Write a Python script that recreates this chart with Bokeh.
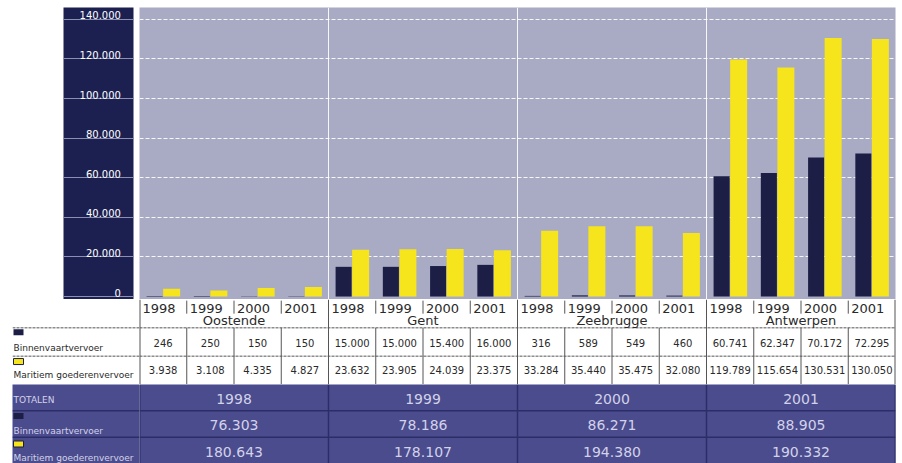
from bokeh.plotting import figure
from bokeh.models import ColumnDataSource, FactorRange, Range1d, Grid, FixedTicker, Span
from bokeh.transform import dodge
from bokeh.layouts import row, column
from bokeh.core.properties import value
from bokeh.embed import file_html
from bokeh.resources import INLINE

# ---------------- data ----------------
ports = ["Oostende", "Gent", "Zeebrugge", "Antwerpen"]
years = ["1998", "1999", "2000", "2001"]
binnenvaart = [246, 250, 150, 150,
               15000, 15000, 15400, 16000,
               316, 589, 549, 460,
               60741, 62347, 70172, 72295]
maritiem = [3938, 3108, 4335, 4827,
            23632, 23905, 24039, 23375,
            33284, 35440, 35475, 32080,
            119789, 115654, 130531, 130050]
totaal_jaren = ["1998", "1999", "2000", "2001"]
totaal_binnenvaart = [76303, 78186, 86271, 88905]
totaal_maritiem = [180643, 178107, 194380, 190332]
y_ticks = [0, 20000, 40000, 60000, 80000, 100000, 120000, 140000]
y_tick_labels = ["0", "20.000", "40.000", "60.000", "80.000", "100.000", "120.000", "140.000"]
label_binnen = "Binnenvaartvervoer"
label_maritiem = "Maritiem goederenvervoer"
label_totalen = "TOTALEN"


def nl(v):
    return f"{v:,}".replace(",", ".")


# ---------------- style ----------------
FONT = value("DejaVu Sans")
NAVY = "#1c2050"
GRAY = "#a9aac3"
DARK_BAR = "#1c1e45"
YELLOW = "#f6e41d"
TOT_BG = "#4b4c8d"
TOT_LINE = "#2c2d68"
TOT_TEXT = "#d2d2ea"
TAB_LINE = "#555555"
TAB_TEXT = "#2a2a2a"

factors = [(p, y) for p in ports for y in years]
n_cols = len(factors)
n_years = len(years)

xr = FactorRange(factors=factors, factor_padding=0, group_padding=0, range_padding=0)
yr = Range1d(-1500, 146000)

TOP = 7
H1, H2, H3 = 292 + TOP, 85, 79
W_LEFT = 139
FRAME_MAIN, RIGHT = 756, 7
W_MAIN = FRAME_MAIN + RIGHT


def base_fig(width, height, x_range, y_range, bg, **kw):
    p = figure(width=width, height=height, x_range=x_range, y_range=y_range,
               x_axis_location=None, y_axis_location=None,
               toolbar_location=None, output_backend="svg",
               min_border=0, background_fill_color=bg,
               border_fill_color="white", outline_line_color=None, **kw)
    for g in p.grid:
        g.visible = False
    return p


# ---------------- y-axis panel ----------------
pa = base_fig(W_LEFT, H1, Range1d(0, 1), yr, NAVY,
              min_border_left=63, min_border_right=6, min_border_top=TOP)
pa.add_layout(Grid(dimension=1, ticker=FixedTicker(ticks=y_ticks),
                   grid_line_color="#8c8fb2", grid_line_width=1))
pa.text(x=[0.82] * len(y_ticks), y=y_ticks, text=y_tick_labels,
        text_align="right", text_baseline="bottom", y_offset=0,
        text_color="white", text_font=FONT, text_font_size=value("10px"))

# ---------------- bars ----------------
src = ColumnDataSource(dict(x=factors, binnen=binnenvaart, maritiem=maritiem,
                            year=[f[1] for f in factors],
                            binnen_txt=[nl(v) for v in binnenvaart],
                            maritiem_txt=[nl(v) for v in maritiem]))

pb = base_fig(W_MAIN, H1, xr, yr, GRAY, min_border_top=TOP, min_border_right=RIGHT)
pb.add_layout(Grid(dimension=1, ticker=FixedTicker(ticks=y_ticks[1:]),
                   grid_line_color="white", grid_line_dash="4 2", grid_line_alpha=0.9))
for k in range(1, len(ports)):
    pb.add_layout(Span(location=k * n_years, dimension="height",
                       line_color="white", line_width=1, line_alpha=0.9))
pb.vbar(x=dodge("x", -0.18, range=xr), top="binnen", width=0.34, source=src,
        fill_color=DARK_BAR, line_color=None)
pb.vbar(x=dodge("x", 0.18, range=xr), top="maritiem", width=0.36, source=src,
        fill_color=YELLOW, line_color=None)

# ---------------- table ----------------
pc1 = base_fig(W_LEFT, H2, Range1d(0, 127), Range1d(0, 3), "white", min_border_left=12)
pc1.segment(x0=[0, 0], y0=[2, 1], x1=[127, 127], y1=[2, 1],
            line_color=TAB_LINE, line_width=1, line_dash="3 1")
pc1.rect(x=[6], y=[1.84], width=10, height=6, width_units="screen", height_units="screen",
         fill_color=DARK_BAR, line_color=None)
pc1.rect(x=[6], y=[0.81], width=10, height=6, width_units="screen", height_units="screen",
         fill_color=YELLOW, line_color=DARK_BAR, line_width=1)
pc1.text(x=[1, 1], y=[1.29, 0.33], text=[label_binnen, label_maritiem],
         text_align="left", text_baseline="alphabetic",
         text_color=TAB_TEXT, text_font=FONT, text_font_size=value("9px"))

pc2 = base_fig(W_MAIN, H2, xr, Range1d(0, 3), "white", min_border_right=RIGHT)
vx, vy0, vy1, vw = [], [], [], []
for k in range(n_cols + 1):
    edge = (k == 0 or k == n_cols)
    if k % n_years == 0:
        vx.append(k); vy0.append(0); vy1.append(3); vw.append(2 if edge else 1)
    else:
        vx.append(k); vy0.append(0); vy1.append(2); vw.append(1)
        vx.append(k); vy0.append(2.5); vy1.append(2.96); vw.append(1)
pc2.segment(x0=vx, y0=vy0, x1=vx, y1=vy1, line_width=vw, line_color=TAB_LINE)
pc2.segment(x0=[0, 0], y0=[2, 1], x1=[n_cols, n_cols], y1=[2, 1],
            line_color=TAB_LINE, line_width=1, line_dash="3 1")
pc2.text(x=dodge("x", -0.5, range=xr), y=2.7, text="year", source=src, x_offset=3,
         text_align="left", text_baseline="middle",
         text_color=TAB_TEXT, text_font=FONT, text_font_size=value("13px"))
pc2.text(x=ports, y=[2.25] * len(ports), text=ports,
         text_align="center", text_baseline="middle",
         text_color=TAB_TEXT, text_font=FONT, text_font_size=value("13px"))
pc2.text(x="x", y=1.47, text="binnen_txt", source=src,
         text_align="center", text_baseline="middle",
         text_color=TAB_TEXT, text_font=FONT, text_font_size=value("10px"))
pc2.text(x="x", y=0.52, text="maritiem_txt", source=src,
         text_align="center", text_baseline="middle",
         text_color=TAB_TEXT, text_font=FONT, text_font_size=value("10px"))

# ---------------- totals ----------------
pd1 = base_fig(W_LEFT, H3, Range1d(0, 127), Range1d(0, 3), TOT_BG, min_border_left=12)
pd1.segment(x0=[0, 0], y0=[2, 1], x1=[127, 127], y1=[2, 1],
            line_color=TOT_LINE, line_width=1.5)
pd1.rect(x=[6], y=[1.8], width=10, height=6, width_units="screen", height_units="screen",
         fill_color=DARK_BAR, line_color=None)
pd1.rect(x=[6], y=[0.74], width=10, height=6, width_units="screen", height_units="screen",
         fill_color=YELLOW, line_color=DARK_BAR, line_width=1)
pd1.text(x=[1], y=[2.41], text=[label_totalen], text_align="left", text_baseline="middle",
         text_color=TOT_TEXT, text_font=FONT, text_font_size=value("9px"))
pd1.text(x=[1, 1], y=[1.24, 0.22], text=[label_binnen, label_maritiem],
         text_align="left", text_baseline="alphabetic",
         text_color=TOT_TEXT, text_font=FONT, text_font_size=value("9px"))

pd2 = base_fig(W_MAIN, H3, xr, Range1d(0, 3), TOT_BG, min_border_right=RIGHT)
bx = [k * n_years for k in range(len(ports) + 1)]
bw = [2 if (k == 0 or k == len(ports)) else 1.5 for k in range(len(ports) + 1)]
pd2.segment(x0=bx, y0=[0] * len(bx), x1=bx, y1=[3] * len(bx),
            line_color=TOT_LINE, line_width=bw)
pd2.segment(x0=[0, 0], y0=[2, 1], x1=[n_cols, n_cols], y1=[2, 1],
            line_color=TOT_LINE, line_width=1.5)
tot_src = ColumnDataSource(dict(x=ports, jaar=totaal_jaren,
                                binnen=[nl(v) for v in totaal_binnenvaart],
                                maritiem=[nl(v) for v in totaal_maritiem]))
for col, yy in (("jaar", 2.44), ("binnen", 1.48), ("maritiem", 0.42)):
    pd2.text(x="x", y=yy, text=col, source=tot_src,
             text_align="center", text_baseline="middle",
             text_color=TOT_TEXT, text_font=FONT, text_font_size=value("14px"))

layout = column(row(pa, pb, spacing=0),
                row(pc1, pc2, spacing=0),
                row(pd1, pd2, spacing=0), spacing=0)

open("out.html", "w").write(file_html(layout, INLINE))
